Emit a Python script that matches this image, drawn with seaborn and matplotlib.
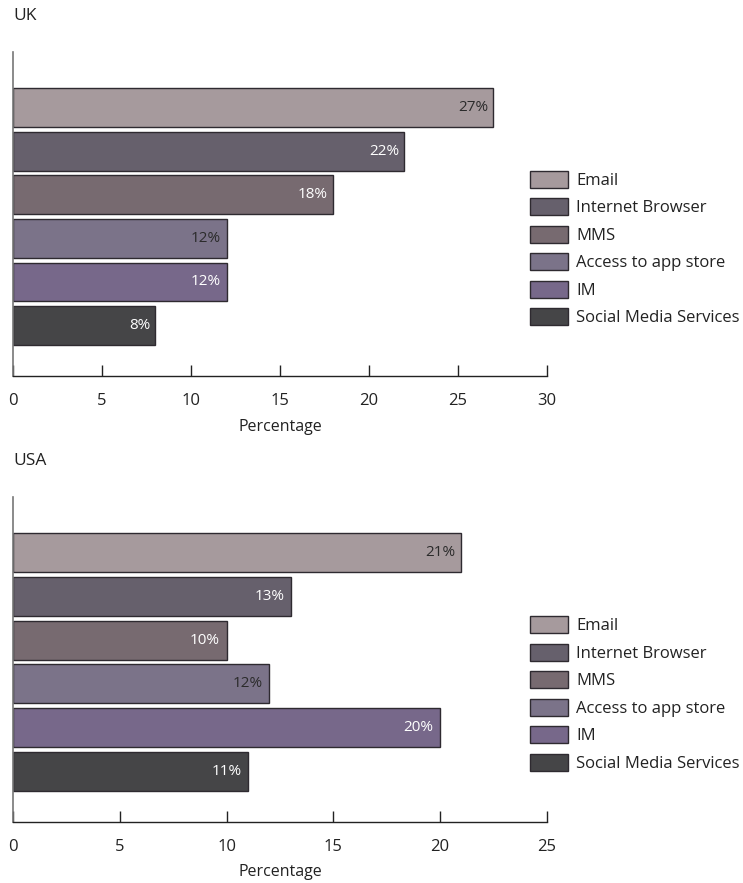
import matplotlib
matplotlib.use("Agg")
import matplotlib.pyplot as plt
import seaborn as sns
import pandas as pd

categories = ["Email", "Internet Browser", "MMS", "Access to app store", "IM", "Social Media Services"]
uk_values = [27, 22, 18, 12, 12, 8]
usa_values = [21, 13, 10, 12, 20, 11]
colors = ["#a69a9d", "#66606c", "#776a70", "#7b7389", "#77688a", "#454547"]
label_colors = ["#2b2b2b", "white", "white", "#2b2b2b", "white", "white"]
uk_ticks = [0, 5, 10, 15, 20, 25, 30]
usa_ticks = [0, 5, 10, 15, 20, 25]

sns.set_theme(style="white")
plt.rcParams["font.family"] = ["Open Sans", "DejaVu Sans"]

fig = plt.figure(figsize=(7.43, 8.83), dpi=100)
palette = dict(zip(categories, colors))


def draw_panel(rect, values, ticks, title):
    ax = fig.add_axes(rect)
    df = pd.DataFrame({"Category": categories, "Percentage": values})
    sns.barplot(data=df, y="Category", x="Percentage", hue="Category",
                palette=palette, dodge=False, width=0.89, saturation=1,
                edgecolor="#2e2a30", linewidth=1.0, ax=ax, legend=True)
    ax.set_xlim(ticks[0], ticks[-1])
    ax.set_ylim(6.16, -1.27)
    for i, (v, c) in enumerate(zip(values, label_colors)):
        ax.text(v - 0.3, i, f"{v}%", ha="right", va="center",
                color=c, fontsize=11)
    ax.set_xticks(ticks)
    ax.set_yticks([])
    ax.set_ylabel("")
    ax.set_xlabel("Percentage", fontsize=11.5, color="#222222", labelpad=7)
    ax.tick_params(axis="x", direction="in", length=8, width=1,
                   color="#222222", pad=12, labelsize=12, labelcolor="#222222")
    ax.xaxis.set_ticks_position("bottom")
    for side in ["top", "right"]:
        ax.spines[side].set_visible(False)
    ax.spines["bottom"].set_color("#222222")
    ax.spines["bottom"].set_linewidth(1)
    ax.spines["left"].set_color("#777777")
    ax.spines["left"].set_linewidth(1.2)
    ax.text(0, 1.11, title, transform=ax.transAxes, fontsize=12.5,
            color="#222222", ha="left", va="center")
    handles, labels = ax.get_legend_handles_labels()
    ax.legend(handles, labels, loc="center left", bbox_to_anchor=(0.968, 0.394),
              frameon=False, fontsize=12, handlelength=2.3, handleheight=1.2,
              handletextpad=0.48, labelspacing=0.56, borderaxespad=0.0,
              borderpad=0.0, labelcolor="#222222")
    return ax


draw_panel([0.0175, 0.574, 0.7185, 0.367], uk_values, uk_ticks, "UK")
draw_panel([0.0175, 0.069, 0.7185, 0.368], usa_values, usa_ticks, "USA")

fig.savefig("out.png", dpi=100)
